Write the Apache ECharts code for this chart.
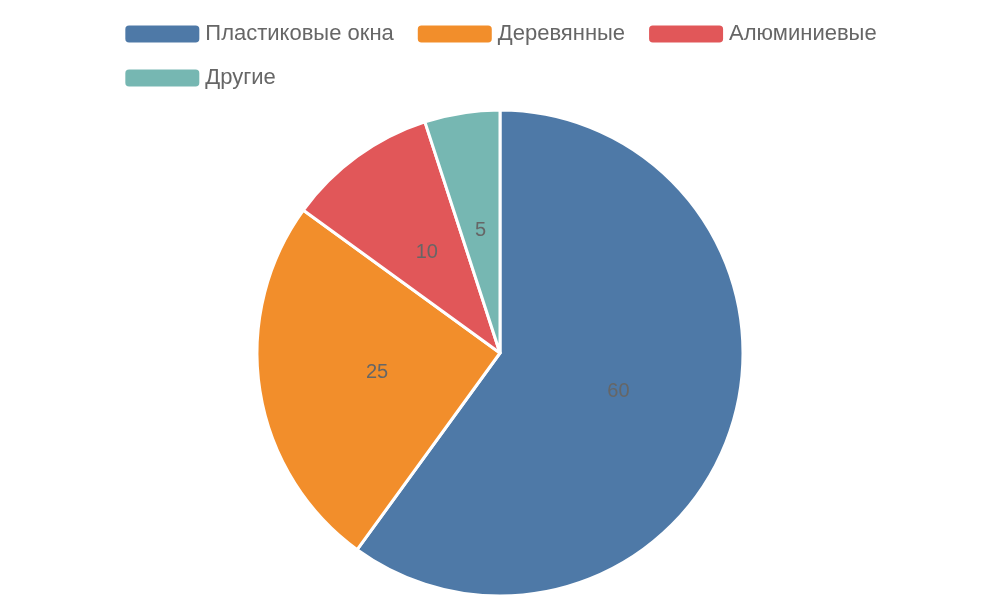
<!DOCTYPE html>
<html><head><meta charset="utf-8">
<script src="https://cdn.jsdelivr.net/npm/echarts@6/dist/echarts.min.js"></script>
<style>html,body{margin:0;padding:0;background:#fff}#c{width:1000px;height:600px}</style>
</head><body><div id="c"></div>
<script>
const categories = ["Пластиковые окна", "Деревянные", "Алюминиевые", "Другие"];
const values = [60, 25, 10, 5];
const colors = ["#4e79a7", "#f28e2b", "#e15759", "#76b7b2"];
const chart = echarts.init(document.getElementById('c'));
chart.setOption({
  color: colors,
  textStyle: {fontFamily: 'Liberation Sans'},
  legend: {
    top: 18, left: 'center', width: 900,
    itemWidth: 76, itemHeight: 19, itemGap: 22,
    textStyle: {fontSize: 22, color: '#666', fontFamily: 'Liberation Sans'},
    data: categories
  },
  series: [{
    type: 'pie',
    center: [500, 353],
    radius: 243,
    startAngle: 90,
    clockwise: true,
    itemStyle: {borderColor: '#fff', borderWidth: 3},
    label: {position: 'inside', formatter: '{c}', fontSize: 20, color: '#666', fontFamily: 'Liberation Sans'},
    labelLine: {show: false},
    data: categories.map((n, i) => ({name: n, value: values[i]}))
  }]
});
</script></body></html>
